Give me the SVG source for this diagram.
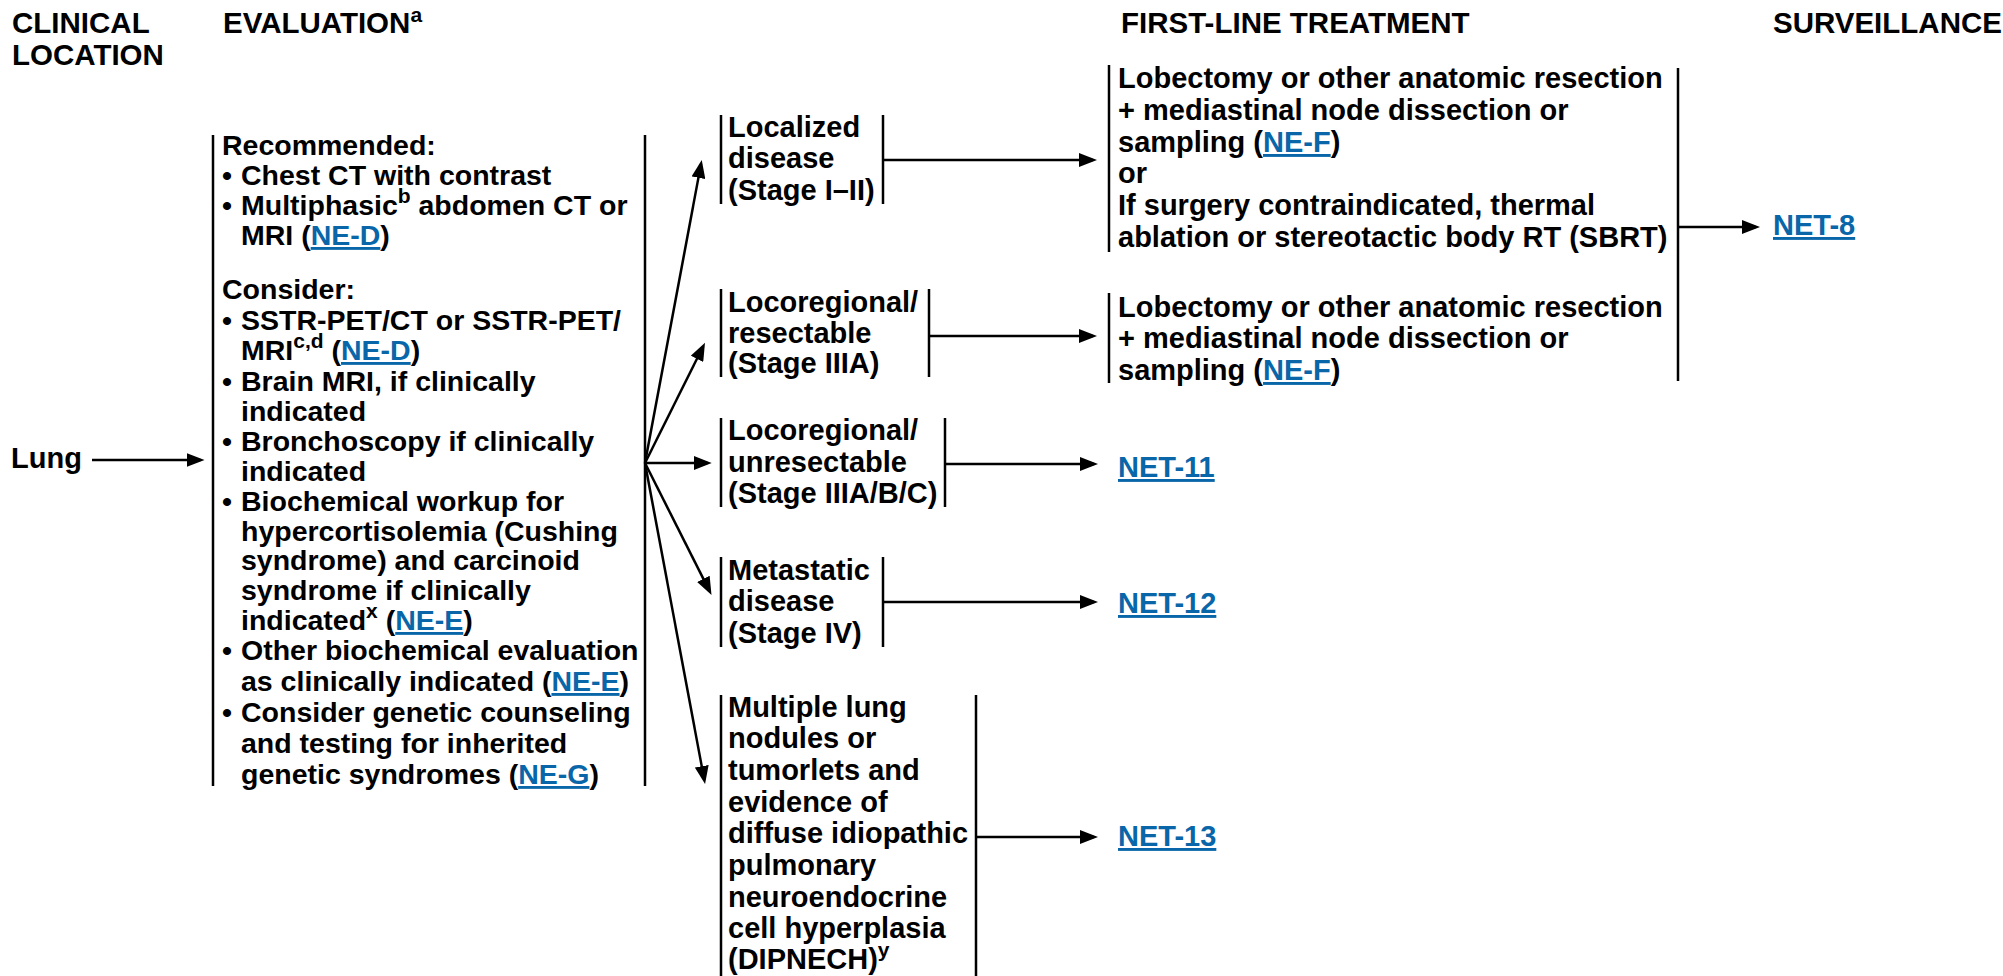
<svg xmlns="http://www.w3.org/2000/svg" width="2003" height="976" viewBox="0 0 2003 976">
<style>
  text { font-family: "Liberation Sans", Arial, sans-serif; font-weight: bold; fill: #000; }
  .h { font-size: 29.5px; }
  .t { font-size: 28.5px; }
  .m { font-size: 29px; }
  .sup { font-size: 21px; }
  .lk { fill: #0966a8; text-decoration: underline; }
  .bar { stroke: #000; stroke-width: 2.5; fill: none; }
  .con line { stroke: #000; stroke-width: 2.5; fill: none; marker-end: url(#ah); }
</style>
<defs>
  <marker id="ah" markerUnits="userSpaceOnUse" markerWidth="18" markerHeight="14" refX="14" refY="7" orient="auto">
    <path d="M0,0 L18,7 L0,14 z" fill="#000"/>
  </marker>
</defs>
<rect width="2003" height="976" fill="#fff"/>

<g id="headers">
  <text class="h" x="12" y="33">CLINICAL</text>
  <text class="h" x="12" y="65">LOCATION</text>
  <text class="h" x="223" y="33">EVALUATION<tspan class="sup" dy="-11">a</tspan></text>
  <text class="h" x="1121" y="33">FIRST-LINE TREATMENT</text>
  <text class="h" x="1773" y="33">SURVEILLANCE</text>
</g>

<g id="lung">
  <text class="m" x="11" y="468">Lung</text>
</g>

<g id="evaluation">
  <line class="bar" x1="213" y1="135" x2="213" y2="786"/>
  <line class="bar" x1="645" y1="135" x2="645" y2="786"/>
  <g class="t">
    <text class="t" x="222" y="155">Recommended:</text>
    <text class="t" x="222" y="185">•</text><text class="t" x="241" y="185">Chest CT with contrast</text>
    <text class="t" x="222" y="215">•</text><text class="t" x="241" y="215">Multiphasic<tspan class="sup" dy="-12">b</tspan><tspan dy="12"> abdomen CT or</tspan></text>
    <text class="t" x="241" y="245">MRI (<tspan class="lk">NE-D</tspan>)</text>
    <text class="t" x="222" y="299">Consider:</text>
    <text class="t" x="222" y="330">•</text><text class="t" x="241" y="330">SSTR-PET/CT or SSTR-PET/</text>
    <text class="t" x="241" y="360">MRI<tspan class="sup" dy="-12">c,d</tspan><tspan dy="12"> (</tspan><tspan class="lk">NE-D</tspan>)</text>
    <text class="t" x="222" y="391">•</text><text class="t" x="241" y="391">Brain MRI, if clinically</text>
    <text class="t" x="241" y="421">indicated</text>
    <text class="t" x="222" y="451">•</text><text class="t" x="241" y="451">Bronchoscopy if clinically</text>
    <text class="t" x="241" y="481">indicated</text>
    <text class="t" x="222" y="511">•</text><text class="t" x="241" y="511">Biochemical workup for</text>
    <text class="t" x="241" y="541">hypercortisolemia (Cushing</text>
    <text class="t" x="241" y="570">syndrome) and carcinoid</text>
    <text class="t" x="241" y="600">syndrome if clinically</text>
    <text class="t" x="241" y="630">indicated<tspan class="sup" dy="-12">x</tspan><tspan dy="12"> (</tspan><tspan class="lk">NE-E</tspan>)</text>
    <text class="t" x="222" y="660">•</text><text class="t" x="241" y="660">Other biochemical evaluation</text>
    <text class="t" x="241" y="691">as clinically indicated (<tspan class="lk">NE-E</tspan>)</text>
    <text class="t" x="222" y="722">•</text><text class="t" x="241" y="722">Consider genetic counseling</text>
    <text class="t" x="241" y="753">and testing for inherited</text>
    <text class="t" x="241" y="784">genetic syndromes (<tspan class="lk">NE-G</tspan>)</text>
  </g>
</g>

<g id="localized">
  <line class="bar" x1="721" y1="115" x2="721" y2="204"/>
  <line class="bar" x1="883" y1="115" x2="883" y2="204"/>
  <text class="m" x="728" y="137">Localized</text>
  <text class="m" x="728" y="168">disease</text>
  <text class="m" x="728" y="200">(Stage I–II)</text>
</g>

<g id="resectable">
  <line class="bar" x1="721" y1="289" x2="721" y2="377"/>
  <line class="bar" x1="929" y1="289" x2="929" y2="377"/>
  <text class="m" x="728" y="312">Locoregional/</text>
  <text class="m" x="728" y="343">resectable</text>
  <text class="m" x="728" y="373">(Stage IIIA)</text>
</g>

<g id="unresectable">
  <line class="bar" x1="721" y1="418" x2="721" y2="507"/>
  <line class="bar" x1="945" y1="418" x2="945" y2="507"/>
  <text class="m" x="728" y="440">Locoregional/</text>
  <text class="m" x="728" y="472">unresectable</text>
  <text class="m" x="728" y="503">(Stage IIIA/B/C)</text>
</g>

<g id="metastatic">
  <line class="bar" x1="721" y1="557" x2="721" y2="647"/>
  <line class="bar" x1="883" y1="557" x2="883" y2="647"/>
  <text class="m" x="728" y="580">Metastatic</text>
  <text class="m" x="728" y="611">disease</text>
  <text class="m" x="728" y="643">(Stage IV)</text>
</g>

<g id="dipnech">
  <line class="bar" x1="721" y1="695" x2="721" y2="976"/>
  <line class="bar" x1="976" y1="695" x2="976" y2="976"/>
  <text class="m" x="728" y="717">Multiple lung</text>
  <text class="m" x="728" y="748">nodules or</text>
  <text class="m" x="728" y="780">tumorlets and</text>
  <text class="m" x="728" y="812">evidence of</text>
  <text class="m" x="728" y="843">diffuse idiopathic</text>
  <text class="m" x="728" y="875">pulmonary</text>
  <text class="m" x="728" y="907">neuroendocrine</text>
  <text class="m" x="728" y="938">cell hyperplasia</text>
  <text class="m" x="728" y="969">(DIPNECH)<tspan class="sup" dy="-12">y</tspan></text>
</g>

<g id="treatment-localized">
  <line class="bar" x1="1109" y1="65" x2="1109" y2="252"/>
  <text class="m" x="1118" y="88">Lobectomy or other anatomic resection</text>
  <text class="m" x="1118" y="120">+ mediastinal node dissection or</text>
  <text class="m" x="1118" y="152">sampling (<tspan class="lk">NE-F</tspan>)</text>
  <text class="m" x="1118" y="183">or</text>
  <text class="m" x="1118" y="215">If surgery contraindicated, thermal</text>
  <text class="m" x="1118" y="247">ablation or stereotactic body RT (SBRT)</text>
</g>

<g id="treatment-resectable">
  <line class="bar" x1="1109" y1="293" x2="1109" y2="383"/>
  <text class="m" x="1118" y="317">Lobectomy or other anatomic resection</text>
  <text class="m" x="1118" y="348">+ mediastinal node dissection or</text>
  <text class="m" x="1118" y="380">sampling (<tspan class="lk">NE-F</tspan>)</text>
</g>

<g id="treatment-bracket">
  <line class="bar" x1="1678" y1="68" x2="1678" y2="381"/>
</g>

<g id="net8"><text class="m lk" x="1773" y="235">NET-8</text></g>
<g id="net11"><text class="m lk" x="1118" y="477">NET-11</text></g>
<g id="net12"><text class="m lk" x="1118" y="613">NET-12</text></g>
<g id="net13"><text class="m lk" x="1118" y="846">NET-13</text></g>

<g id="connectors" class="con">
  <line x1="92" y1="460" x2="200.5" y2="460"/>
  <line x1="645" y1="463" x2="701" y2="164"/>
  <line x1="645" y1="463" x2="703.2" y2="346.3"/>
  <line x1="645" y1="463" x2="707.7" y2="463"/>
  <line x1="645" y1="463" x2="709.7" y2="591.4"/>
  <line x1="645" y1="463" x2="704.3" y2="780"/>
  <line x1="883" y1="160" x2="1093" y2="160"/>
  <line x1="929" y1="336" x2="1093" y2="336"/>
  <line x1="945" y1="464" x2="1094" y2="464"/>
  <line x1="883" y1="602" x2="1094" y2="602"/>
  <line x1="976" y1="837" x2="1094" y2="837"/>
  <line x1="1678" y1="227" x2="1756" y2="227"/>
</g>
</svg>
